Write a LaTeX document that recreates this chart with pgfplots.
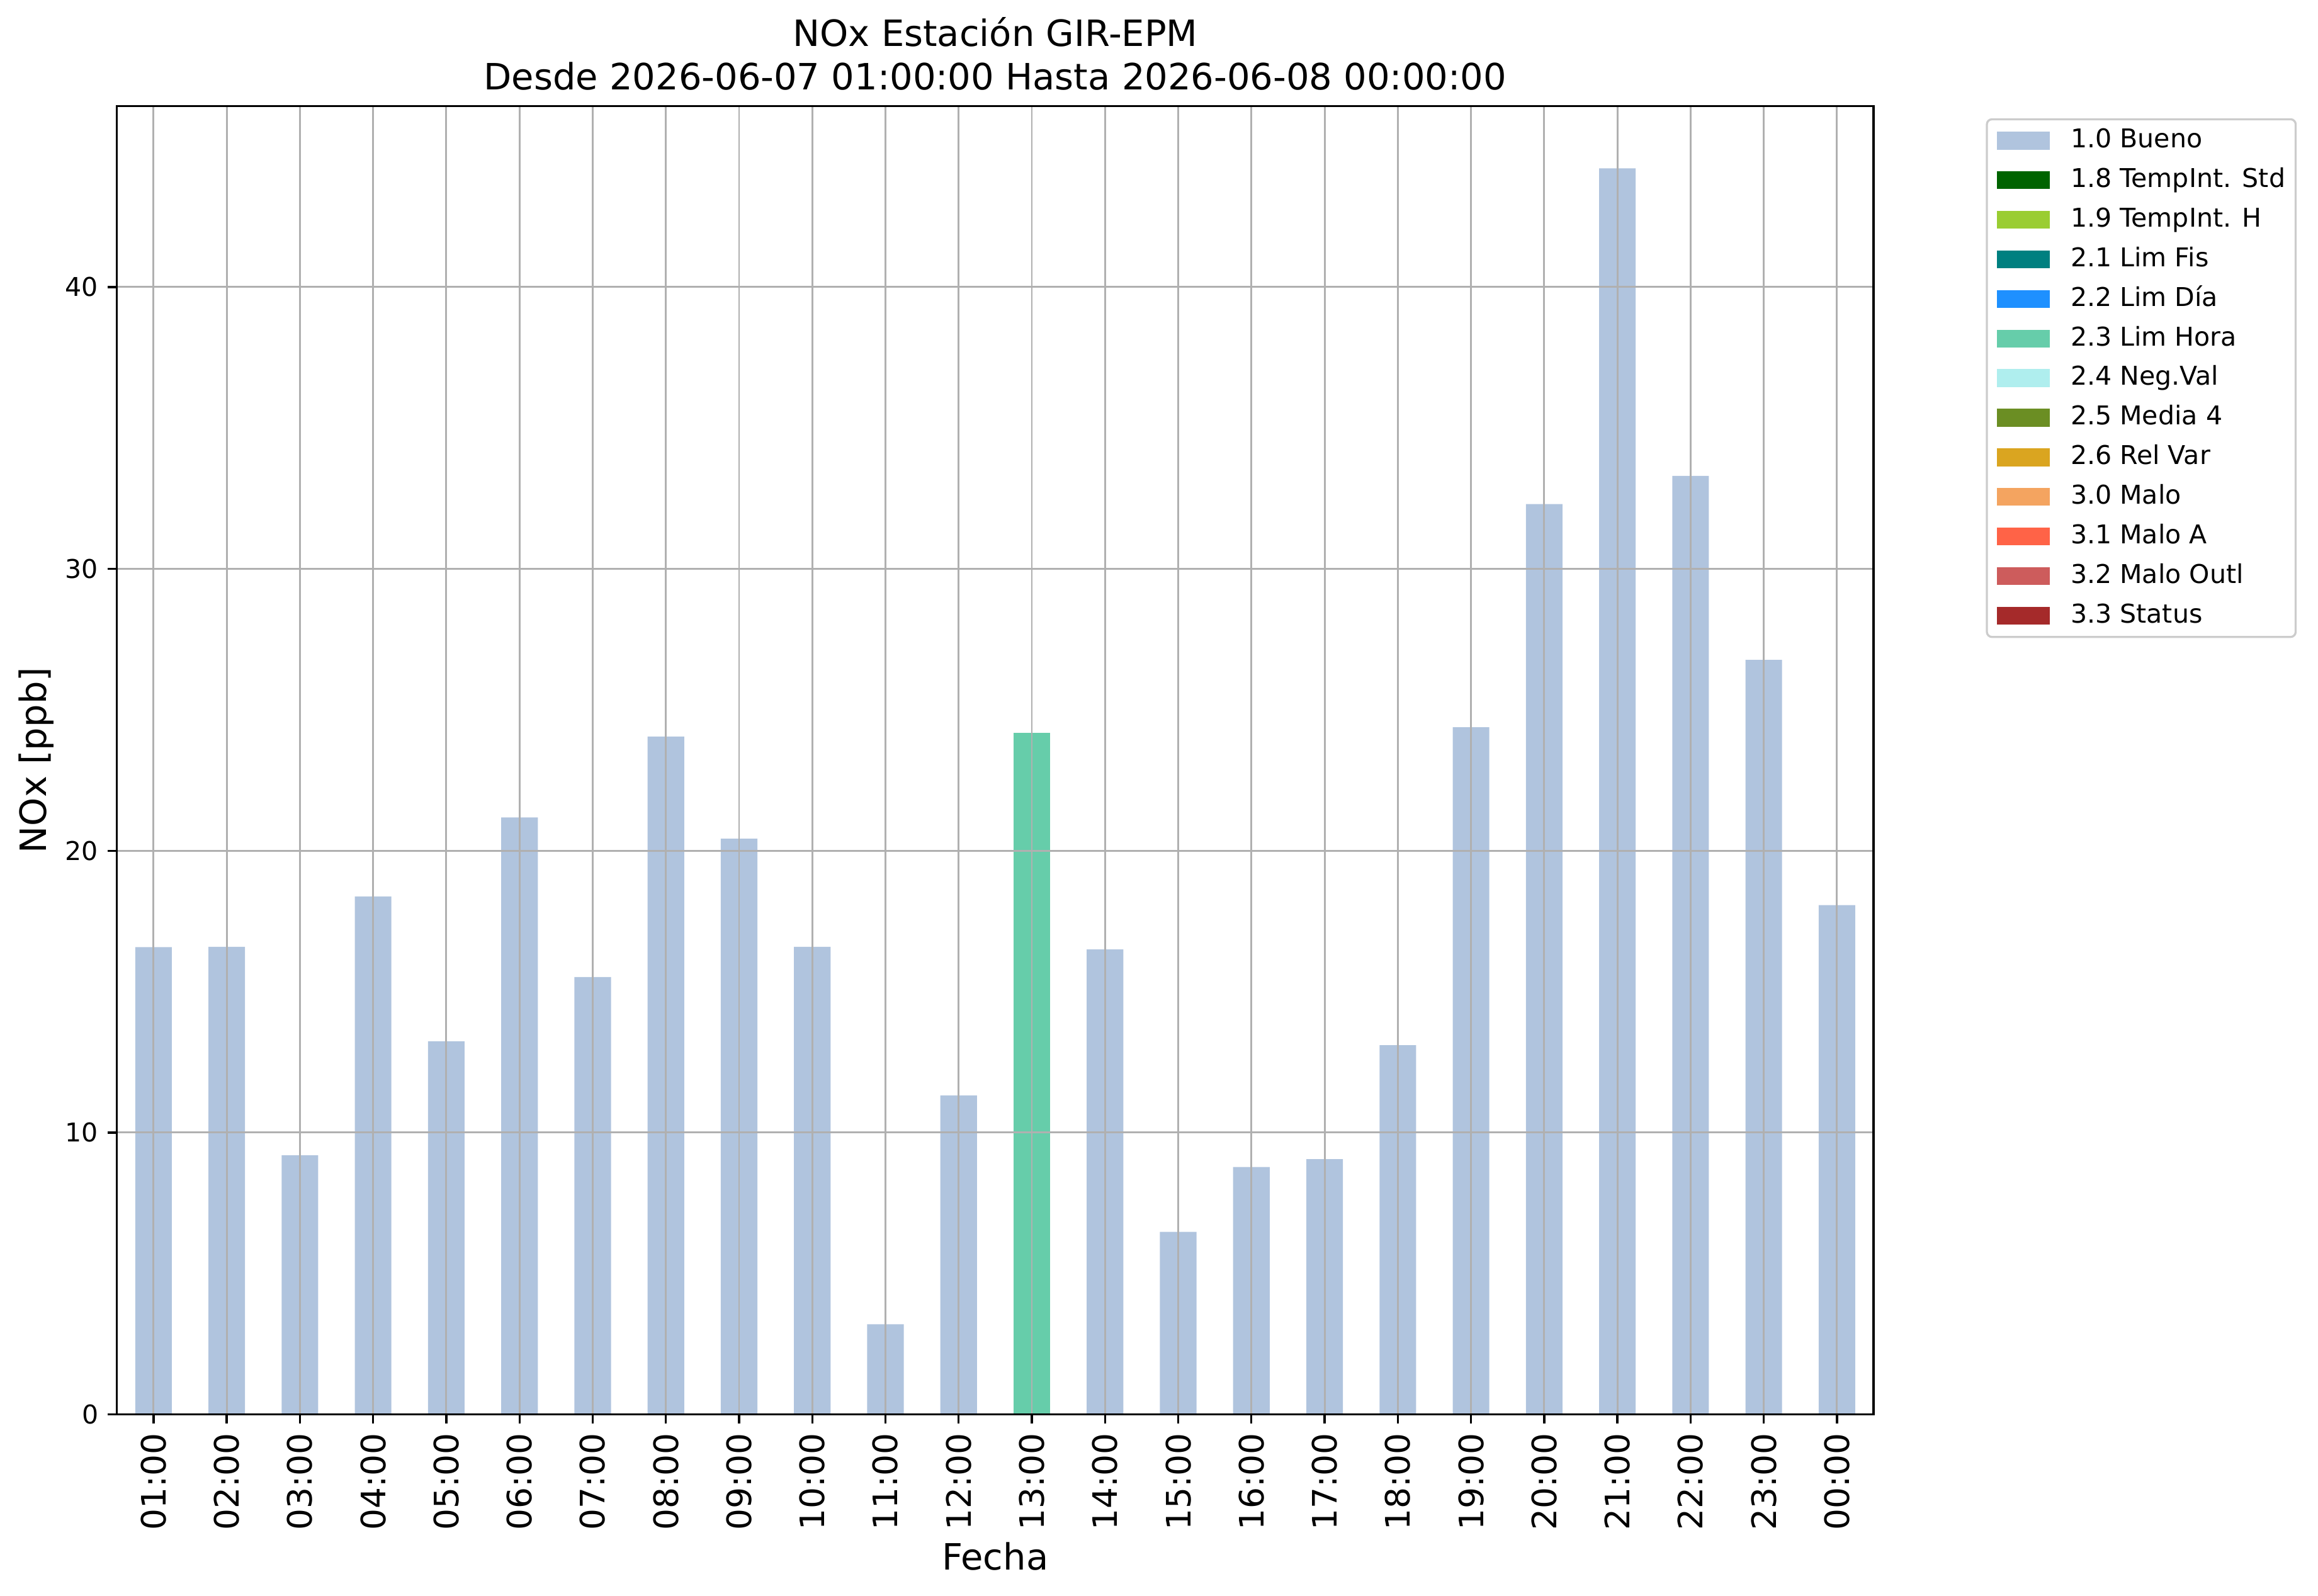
\documentclass[border=0pt]{standalone}
\usepackage{fontspec}
\setmainfont{DejaVu Sans}
\usepackage{pgfplots}
\usepackage{pgfplotstable}
\pgfplotsset{compat=1.18}
\definecolor{c10}{HTML}{B0C4DE}
\definecolor{c18}{HTML}{006400}
\definecolor{c19}{HTML}{9ACD32}
\definecolor{c21}{HTML}{008080}
\definecolor{c22}{HTML}{1E90FF}
\definecolor{c23}{HTML}{66CDAA}
\definecolor{c24}{HTML}{AFEEEE}
\definecolor{c25}{HTML}{6B8E23}
\definecolor{c26}{HTML}{DAA520}
\definecolor{c30}{HTML}{F4A460}
\definecolor{c31}{HTML}{FF6347}
\definecolor{c32}{HTML}{CD5C5C}
\definecolor{c33}{HTML}{A52A2A}
\definecolor{gridgray}{HTML}{B0B0B0}
\definecolor{legendgray}{HTML}{CCCCCC}
\pgfplotsset{patchlegend/.style={legend image code/.code={\fill[##1, sharp corners] (0pt,-3.45pt) rectangle (20.4pt,3.45pt);}}}
\pgfplotstableread{
x y
0 16.58
1 16.59
2 9.20
3 18.38
4 13.24
5 21.18
6 15.52
7 24.05
8 20.43
9 16.59
10 3.20
11 11.32
13 16.50
14 6.48
15 8.78
16 9.06
17 13.10
18 24.38
19 32.30
20 44.21
21 33.30
22 26.77
23 18.07
}\bueno
\pgfplotstableread{
x y
12 24.18
}\limhora
\begin{document}
\begin{tikzpicture}
\path[use as bounding box] (-45.2pt,-70pt) rectangle (850.8pt,546.7pt);
\begin{axis}[
  at={(0,0)}, anchor=south west,
  scale only axis, width=679pt, height=505.7pt,
  xmin=-0.5, xmax=23.5, ymin=0, ymax=46.42,
  xtick={0,...,23},
  xticklabels={01:00,02:00,03:00,04:00,05:00,06:00,07:00,08:00,09:00,10:00,11:00,12:00,13:00,14:00,15:00,16:00,17:00,18:00,19:00,20:00,21:00,22:00,23:00,00:00},
  ytick={0,10,20,30,40},
  /pgf/number format/assume math mode=true,
  grid=major,
  major grid style={color=gridgray, line width=0.7pt},
  axis on top,
  axis line style={line width=0.8pt},
  tick style={black, line width=0.8pt},
  major tick length=3.5pt,
  tick align=outside, xtick pos=bottom, ytick pos=left,
  xticklabel style={rotate=90, anchor=east, inner sep=0pt, font=\fontsize{13}{15}\selectfont},
  yticklabel style={anchor=east, inner sep=0pt, font=\fontsize{10}{12}\selectfont},
  xticklabel shift=3.5pt, yticklabel shift=3.5pt,
  xlabel={Fecha}, ylabel={NOx [ppb]},
  xlabel style={at={(axis description cs:0.5,-0.1084)}, anchor=center, inner sep=0pt, font=\fontsize{14}{17}\selectfont},
  ylabel style={at={(axis description cs:-0.0460,0.5)}, anchor=center, inner sep=0pt, font=\fontsize{14}{17}\selectfont},
  title={NOx Estación GIR-EPM\\Desde 2026-06-07 01:00:00 Hasta 2026-06-08 00:00:00},
  title style={at={(axis description cs:0.5,1)}, anchor=south, yshift=0pt, inner sep=0pt, align=center, font=\fontsize{14}{16.8}\selectfont},
  legend style={at={(axis description cs:1.0639,0.9907)}, anchor=north west, draw=legendgray, line width=0.8pt, rounded corners=2pt, fill=white, inner xsep=4pt, inner ysep=3.5pt, row sep=5.8pt, column sep=8pt, font=\fontsize{10}{12}\selectfont, nodes={inner sep=0pt, text height=7.5pt, text depth=2pt, anchor=west}},
  legend cell align=left,
  patchlegend,
]
\addplot[ybar, bar width=14.146pt, bar shift=0pt, fill=c10, draw=none, patchlegend] table[x=x,y=y] {\bueno};
\addlegendentry{1.0 Bueno}
\addlegendimage{fill=c18, draw=none, patchlegend}
\addlegendentry{1.8 TempInt. Std}
\addlegendimage{fill=c19, draw=none, patchlegend}
\addlegendentry{1.9 TempInt. H}
\addlegendimage{fill=c21, draw=none, patchlegend}
\addlegendentry{2.1 Lim Fis}
\addlegendimage{fill=c22, draw=none, patchlegend}
\addlegendentry{2.2 Lim Día}
\addplot[ybar, bar width=14.146pt, bar shift=0pt, fill=c23, draw=none, patchlegend] table[x=x,y=y] {\limhora};
\addlegendentry{2.3 Lim Hora}
\addlegendimage{fill=c24, draw=none, patchlegend}
\addlegendentry{2.4 Neg.Val}
\addlegendimage{fill=c25, draw=none, patchlegend}
\addlegendentry{2.5 Media 4}
\addlegendimage{fill=c26, draw=none, patchlegend}
\addlegendentry{2.6 Rel Var}
\addlegendimage{fill=c30, draw=none, patchlegend}
\addlegendentry{3.0 Malo}
\addlegendimage{fill=c31, draw=none, patchlegend}
\addlegendentry{3.1 Malo A}
\addlegendimage{fill=c32, draw=none, patchlegend}
\addlegendentry{3.2 Malo Outl}
\addlegendimage{fill=c33, draw=none, patchlegend}
\addlegendentry{3.3 Status}
\end{axis}
\end{tikzpicture}
\end{document}
